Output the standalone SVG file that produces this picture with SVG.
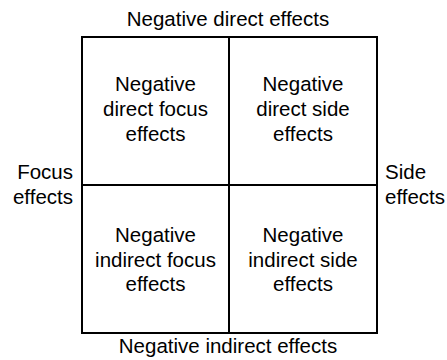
<svg xmlns="http://www.w3.org/2000/svg" width="447" height="360" viewBox="0 0 447 360">
<style>
text{font-family:"Liberation Sans",Arial,sans-serif;font-size:20.5px;fill:#000}
.c{text-anchor:middle}
.box{fill:#fff;stroke:#000;stroke-width:2}
</style>
<rect width="447" height="360" fill="#fff"/>
<g id="q1"><rect class="box" x="82" y="37" width="147" height="148"/>
<text class="c" x="155.5" y="91">Negative</text><text class="c" x="155.5" y="116">direct focus</text><text class="c" x="155.5" y="141">effects</text></g>
<g id="q2"><rect class="box" x="229" y="37" width="148" height="148"/>
<text class="c" x="303" y="91">Negative</text><text class="c" x="303" y="116">direct side</text><text class="c" x="303" y="141">effects</text></g>
<g id="q3"><rect class="box" x="82" y="185" width="147" height="148"/>
<text class="c" x="155.5" y="241.5">Negative</text><text class="c" x="155.5" y="266.5">indirect focus</text><text class="c" x="155.5" y="291">effects</text></g>
<g id="q4"><rect class="box" x="229" y="185" width="148" height="148"/>
<text class="c" x="303" y="241.5">Negative</text><text class="c" x="303" y="266.5">indirect side</text><text class="c" x="303" y="291">effects</text></g>
<g id="labels">
<text class="c" x="228" y="26">Negative direct effects</text>
<text class="c" x="228" y="353">Negative indirect effects</text>
<text x="73" y="178.5" text-anchor="end">Focus</text>
<text x="73" y="203.5" text-anchor="end">effects</text>
<text x="385" y="178.5">Side</text>
<text x="385" y="203.5">effects</text>
</g>
<g id="connectors"></g>
</svg>
